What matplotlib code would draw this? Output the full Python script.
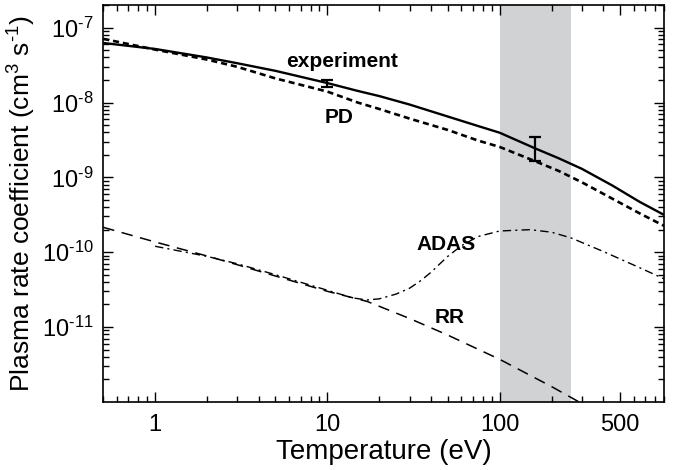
import matplotlib
matplotlib.use("Agg")
import matplotlib.pyplot as plt
from matplotlib.ticker import LogLocator, FixedLocator, NullFormatter, FixedFormatter

plt.rcParams['font.family'] = ['Liberation Sans', 'DejaVu Sans']
plt.rcParams['mathtext.fontset'] = 'custom'
plt.rcParams['mathtext.rm'] = 'Liberation Sans'
plt.rcParams['mathtext.default'] = 'regular'

# experimental plasma rate coefficient (solid line)
temp_exp = [0.5, 1, 2, 3, 5, 10, 15, 20, 30, 50, 75, 100, 160, 220, 300, 450, 650, 900]
rate_exp = [6.25e-8, 5.2e-8, 4.0e-8, 3.35e-8, 2.65e-8, 1.82e-8, 1.43e-8, 1.22e-8, 9.4e-9,
            6.5e-9, 4.85e-9, 3.95e-9, 2.45e-9, 1.8e-9, 1.3e-9, 7.8e-10, 4.7e-10, 3.15e-10]

# PD calculation (dotted)
temp_pd = [0.5, 1, 2, 3, 5, 10, 15, 20, 30, 50, 75, 100, 160, 220, 300, 450, 650, 900]
rate_pd = [7.1e-8, 5.1e-8, 3.75e-8, 3.0e-8, 2.1e-8, 1.4e-8, 1.0e-8, 8.2e-9, 6.1e-9,
           4.3e-9, 3.1e-9, 2.55e-9, 1.65e-9, 1.22e-9, 8.6e-10, 5.2e-10, 3.3e-10, 2.25e-10]

# ADAS (dash-dot)
temp_adas = [1, 2, 3, 5, 10, 14, 17, 20, 25, 30, 35, 40, 45, 50, 60, 75, 100, 150, 200, 260, 400, 650, 900]
rate_adas = [1.2e-10, 8.8e-11, 7.0e-11, 5.0e-11, 3.1e-11, 2.45e-11, 2.3e-11, 2.38e-11, 2.75e-11,
             3.3e-11, 4.2e-11, 5.4e-11, 7.0e-11, 8.8e-11, 1.22e-10, 1.62e-10, 1.92e-10, 2.0e-10,
             1.85e-10, 1.55e-10, 1.02e-10, 6.2e-11, 4.4e-11]

# radiative recombination (dashed)
temp_rr = [0.5, 1, 2, 3, 5, 10, 17, 30, 50, 100, 200, 300]
rate_rr = [2.15e-10, 1.37e-10, 8.9e-11, 6.8e-11, 4.8e-11, 3.0e-11, 2.2e-11, 1.3e-11,
           7.8e-12, 3.7e-12, 1.6e-12, 9.5e-13]

# measured points with error bars
err_temp = [10, 160]
err_low = [1.6e-8, 1.63e-9]
err_high = [2.03e-8, 3.5e-9]

band = (100, 260)

fig = plt.figure(figsize=(6.79, 4.70), dpi=100)
ax = fig.add_axes([0.152, 0.145, 0.826, 0.844])

ax.axvspan(band[0], band[1], color='#d1d2d4', lw=0, zorder=0)

ax.plot(temp_exp, rate_exp, color='black', lw=1.7, solid_capstyle='butt')
ax.plot(temp_pd, rate_pd, color='black', lw=1.9, linestyle=(0, (2.3, 1.5)))
ax.plot(temp_adas, rate_adas, color='black', lw=1.0, linestyle=(0, (6, 3, 1.5, 3)))
ax.plot(temp_rr, rate_rr, color='black', lw=1.1, linestyle=(0, (7.5, 5)))

mid = [(lo * hi) ** 0.5 for lo, hi in zip(err_low, err_high)]
yerr = [[m - lo for m, lo in zip(mid, err_low)], [hi - m for m, hi in zip(mid, err_high)]]
ax.errorbar(err_temp, mid, yerr=yerr, fmt='none', ecolor='black', elinewidth=1.6,
            capsize=4.5, capthick=1.6, zorder=5)

ax.set_xscale('log')
ax.set_yscale('log')
ax.set_xlim(0.5, 900)
ax.set_ylim(1e-12, 2e-7)

ax.xaxis.set_major_locator(FixedLocator([1, 10, 100, 500]))
ax.xaxis.set_major_formatter(FixedFormatter(['1', '10', '100', '500']))
ax.xaxis.set_minor_locator(LogLocator(base=10, subs=range(2, 10), numticks=20))
ax.xaxis.set_minor_formatter(NullFormatter())

ydec = [1e-11, 1e-10, 1e-9, 1e-8, 1e-7]
ax.yaxis.set_major_locator(FixedLocator(ydec))
ax.yaxis.set_major_formatter(FixedFormatter([r'$10^{\text{-}11}$', r'$10^{\text{-}10}$',
                                             r'$10^{\text{-}9}$', r'$10^{\text{-}8}$',
                                             r'$10^{\text{-}7}$']))
ax.yaxis.set_minor_locator(LogLocator(base=10, subs=range(2, 10), numticks=20))
ax.yaxis.set_minor_formatter(NullFormatter())

ax.tick_params(which='both', direction='in', top=True, right=True, width=1.0, labelsize=17)
ax.tick_params(which='major', length=7, pad=7)
ax.tick_params(axis='x', which='major', pad=9)
ax.tick_params(which='minor', length=4)
for s in ax.spines.values():
    s.set_linewidth(1.2)

ax.set_xlabel('Temperature (eV)', fontsize=20, labelpad=2)
ax.set_ylabel(r'Plasma rate coefficient (cm$^{3}$ s$^{\text{-}1}$)', fontsize=19, labelpad=3)

ax.text(12.1, 3.5e-8, 'experiment', fontsize=15, fontweight='bold', ha='center', va='center')
ax.text(11.7, 6.3e-9, 'PD', fontsize=15, fontweight='bold', ha='center', va='center')
ax.text(49, 1.28e-10, 'ADAS', fontsize=15, fontweight='bold', ha='center', va='center')
ax.text(51, 1.36e-11, 'RR', fontsize=15, fontweight='bold', ha='center', va='center')

fig.savefig('out.png', dpi=100)
